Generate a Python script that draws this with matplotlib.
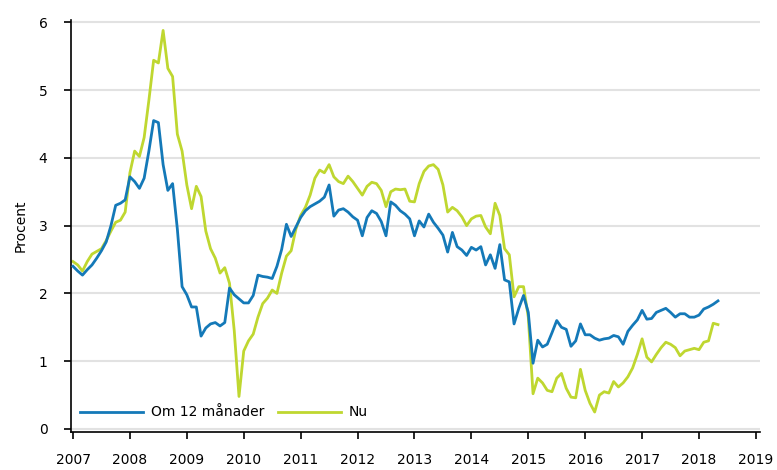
import numpy as np
import matplotlib
matplotlib.use('Agg')
import matplotlib.pyplot as plt

# Monthly values, Jan 2007 - May 2018 (percent)
om_12_manader = [
    2.40, 2.33, 2.27, 2.35, 2.42, 2.52, 2.63, 2.76, 3.00, 3.30, 3.33, 3.38,
    3.72, 3.65, 3.55, 3.70, 4.10, 4.55, 4.52, 3.90, 3.52, 3.62, 2.95, 2.10,
    1.98, 1.80, 1.80, 1.37, 1.49, 1.55, 1.57, 1.52, 1.57, 2.08, 1.98, 1.92,
    1.86, 1.86, 1.97, 2.27, 2.25, 2.24, 2.22, 2.40, 2.65, 3.02, 2.84, 2.98,
    3.12, 3.22, 3.28, 3.32, 3.36, 3.42, 3.60, 3.14, 3.23, 3.25, 3.20, 3.13,
    3.08, 2.85, 3.12, 3.22, 3.18, 3.06, 2.85, 3.35, 3.30, 3.22, 3.17, 3.10,
    2.85, 3.07, 2.98, 3.17, 3.05, 2.96, 2.86, 2.61, 2.90, 2.69, 2.64, 2.56,
    2.68, 2.64, 2.69, 2.42, 2.57, 2.37, 2.72, 2.20, 2.17, 1.55, 1.78, 1.97,
    1.72, 0.97, 1.31, 1.21, 1.25, 1.42, 1.60, 1.50, 1.47, 1.22, 1.30, 1.55,
    1.39, 1.39, 1.34, 1.31, 1.33, 1.34, 1.38, 1.36, 1.25, 1.44, 1.53, 1.61,
    1.75, 1.62, 1.63, 1.72, 1.75, 1.78, 1.72, 1.65, 1.70, 1.70, 1.65, 1.65,
    1.68, 1.77, 1.80, 1.84, 1.89,
]
nu = [
    2.47, 2.42, 2.33, 2.47, 2.58, 2.62, 2.66, 2.78, 2.92, 3.05, 3.08, 3.20,
    3.78, 4.10, 4.02, 4.30, 4.85, 5.44, 5.40, 5.88, 5.32, 5.20, 4.35, 4.10,
    3.60, 3.25, 3.58, 3.43, 2.92, 2.66, 2.52, 2.30, 2.38, 2.15, 1.45, 0.48,
    1.15, 1.30, 1.40, 1.65, 1.85, 1.93, 2.05, 2.00, 2.30, 2.55, 2.63, 2.95,
    3.15, 3.27, 3.45, 3.70, 3.82, 3.78, 3.90, 3.72, 3.65, 3.62, 3.73, 3.65,
    3.55, 3.45, 3.58, 3.64, 3.62, 3.52, 3.28, 3.50, 3.54, 3.53, 3.54, 3.36,
    3.35, 3.62, 3.80, 3.88, 3.90, 3.83, 3.60, 3.20, 3.27, 3.22, 3.13, 3.00,
    3.10, 3.14, 3.15, 2.98, 2.88, 3.33, 3.15, 2.66, 2.57, 1.95, 2.10, 2.10,
    1.65, 0.52, 0.75, 0.68, 0.57, 0.55, 0.75, 0.82, 0.60, 0.47, 0.46, 0.88,
    0.57, 0.38, 0.25, 0.50, 0.55, 0.53, 0.70, 0.62, 0.68, 0.77, 0.90, 1.10,
    1.33, 1.06, 0.99, 1.10, 1.20, 1.28, 1.25, 1.20, 1.08, 1.15, 1.17, 1.19,
    1.17, 1.28, 1.30, 1.56, 1.54,
]
year_ticks = list(range(2007, 2020))
y_ticks = [0, 1, 2, 3, 4, 5, 6]

months = 2007 + np.arange(len(nu)) / 12.0

fig = plt.figure(figsize=(7.77, 4.70), dpi=100)
ax = fig.add_axes([0.0914, 0.0809, 0.8866, 0.876])

ax.plot(months, om_12_manader, color='#1479b8', lw=2.0, label='Om 12 månader', zorder=3)
ax.plot(months, nu, color='#bfd730', lw=2.0, label='Nu', zorder=2)

ax.set_xlim(2006.965, 2019.07)
ax.set_ylim(-0.044, 6.03)
ax.set_xticks(year_ticks)
ax.set_yticks(y_ticks)
ax.tick_params(direction='out', length=5, width=1.2, labelsize=10, colors='black')
ax.tick_params(axis='x', pad=10)
ax.tick_params(axis='y', pad=12)

ax.grid(axis='y', color='#e2e2e2', lw=1.5, zorder=0)
ax.set_axisbelow(True)
for s in ['top', 'right']:
    ax.spines[s].set_visible(False)
for s in ['left', 'bottom']:
    ax.spines[s].set_linewidth(1.2)

ax.set_ylabel('Procent', fontsize=10, labelpad=8)

ax.legend(loc='lower left', ncol=2, frameon=False, fontsize=10,
          handlelength=4.5, columnspacing=1.0, handletextpad=0.6,
          bbox_to_anchor=(-0.005, 0.0))

fig.savefig('out.png', dpi=100)
